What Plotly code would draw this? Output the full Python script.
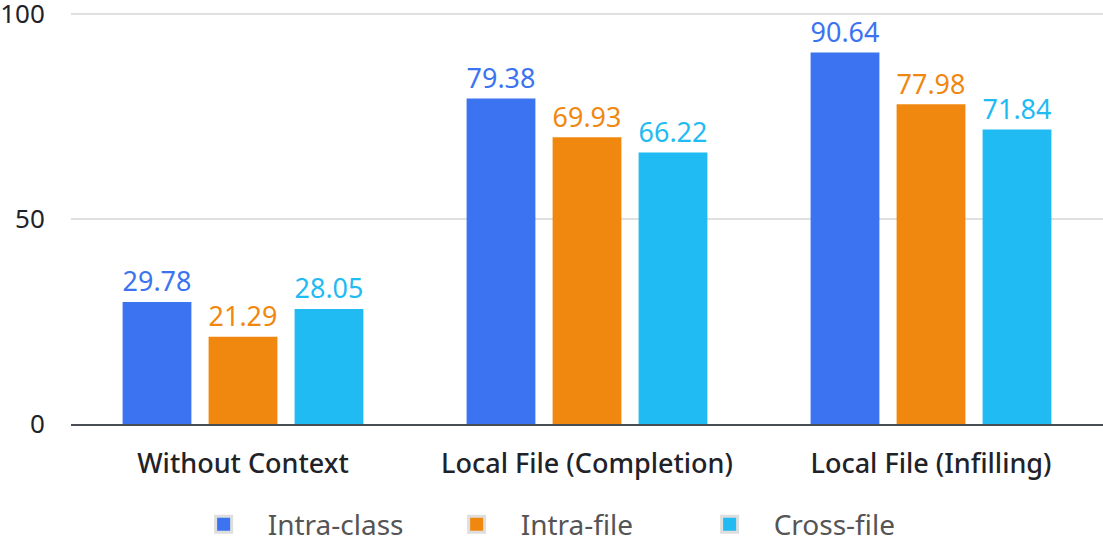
import plotly.graph_objects as go

# Data
categories = ['Without Context', 'Local File (Completion)', 'Local File (Infilling)']
series_names = ['Intra-class', 'Intra-file', 'Cross-file']
intra_class = [29.78, 79.38, 90.64]
intra_file = [21.29, 69.93, 77.98]
cross_file = [28.05, 66.22, 71.84]

colors = ['#3B73F0', '#F0880F', '#1FBBF2']
font_family = 'Noto Sans, sans-serif'

fig = go.Figure()

for name, vals, col in zip(series_names, [intra_class, intra_file, cross_file], colors):
    fig.add_trace(go.Bar(
        x=categories, y=vals, name=name,
        marker=dict(color=col, line=dict(width=0)),
        text=[f'{v:.2f}' for v in vals],
        textposition='outside',
        textfont=dict(color=col, size=28, family=font_family),
        cliponaxis=False,
        showlegend=False,
    ))

# legend-only markers (square with light border, like the original)
for name, col in zip(series_names, colors):
    fig.add_trace(go.Scatter(
        x=[None], y=[None], mode='markers', name=name,
        marker=dict(symbol='square', size=16, color=col,
                    line=dict(color='#dedede', width=3)),
    ))

fig.update_layout(
    width=1103, height=543,
    margin=dict(l=71, r=0, t=12, b=119, autoexpand=False),
    plot_bgcolor='white', paper_bgcolor='white',
    barmode='group', bargap=0.25, bargroupgap=0.2,
    font=dict(family=font_family, size=26, color='#1f2329'),
    legend=dict(
        orientation='h', x=0.473, xanchor='center',
        yref='container', y=0.034, yanchor='middle',
        font=dict(size=28, color='#555555'),
        itemwidth=78, entrywidth=160,
    ),
    xaxis=dict(
        showline=True, linecolor='#4a4f55', linewidth=2,
        ticks='', tickfont=dict(size=27, color='#1f2329', weight=500),
        ticklabelstandoff=15, automargin=False,
    ),
    yaxis=dict(
        range=[0, 100.5], tickvals=[0, 50, 100],
        showgrid=True, gridcolor='#e0e0e0', gridwidth=2,
        zeroline=False, showline=False,
        ticks='outside', ticklen=20, tickcolor='rgba(0,0,0,0)',
        tickfont=dict(size=26, color='#1f2329'),
        ticklabeloverflow='allow',
        automargin=False,
    ),
)

fig.write_html('out.html', config={'displayModeBar': False},
               post_script="document.body.style.margin='0';")
